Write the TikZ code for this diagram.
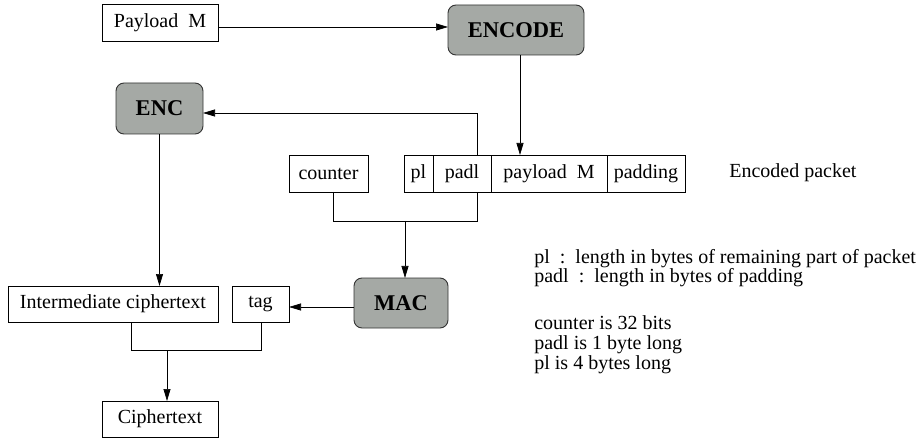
\documentclass[tikz,border=0pt]{standalone}
\usepackage{fontspec}
\setmainfont{Liberation Serif}
\usetikzlibrary{positioning,arrows.meta}

\definecolor{opgray}{RGB}{165,169,165}
\tikzset{
  field/.style={draw, inner sep=0pt, outer sep=0pt, minimum height=37},
  op/.style={draw=black!80, fill=opgray, rounded corners=8pt, line width=0.9pt,
    inner sep=0pt, outer sep=0pt, font=\fontsize{22.5}{22.5}\selectfont\bfseries},
  flow/.style={-{Triangle[length=12pt,width=7pt]}},
  note/.style={anchor=base west, inner sep=0pt},
}

\begin{document}
\begin{tikzpicture}[x=1pt, y=-1pt, line width=0.7pt, font=\fontsize{20}{20}\selectfont]
  \useasboundingbox (0,0) rectangle (923,438);

  \node[field, minimum width=116] (payin) at (160,22.5) {Payload\ \ M};
  \node[op, minimum width=136, minimum height=50] (encode) at (516,30) {ENCODE};
  \node[op, minimum width=87, minimum height=51] (enc) at (159.5,108.5) {ENC};

  % encoded packet
  \node[field, minimum width=79] (counter) at (328.5,173.5) {counter};
  \node[field, minimum width=29, anchor=north west] (pl) at (404,155) {pl};
  \node[field, minimum width=58, right=0pt of pl] (padl) {padl};
  \node[field, minimum width=116, right=0pt of padl] (paym) {payload\ \ M};
  \node[field, minimum width=78, right=0pt of paym] (padding) {padding};
  \node[anchor=west, inner sep=0pt] (pktlabel) at (729,173) {Encoded packet};

  \node[op, minimum width=94, minimum height=50] (mac) at (401,303) {MAC};
  \node[field, minimum width=210, minimum height=36] (inter) at (113,304) {Intermediate ciphertext};
  \node[field, minimum width=57, minimum height=36] (tag) at (260.5,304) {tag};
  \node[field, minimum width=116, minimum height=36] (cipher) at (160,419) {Ciphertext};

  % notes
  \node[note] (note1) at (534,263) {pl~~:~~length in bytes of remaining part of packet};
  \node[note] (note2) at (534,283) {padl~~:~~length in bytes of padding};
  \node[note] (note3) at (534,329) {counter is 32 bits};
  \node[note] (note4) at (534,349) {padl is 1 byte long};
  \node[note] (note5) at (534,369) {pl is 4 bytes long};

  \coordinate (macjoin) at (405,221);
  \coordinate (cipherjoin) at (167,350);

  \draw[flow] ([yshift=-4.5pt]payin.east) -- ([yshift=-4.5pt]payin.east -| encode.west);
  \draw[flow] ([xshift=4pt]encode.south) -- ([xshift=4pt]encode.south |- paym.north);
  \draw[flow] ([xshift=15pt]padl.north) |- ([yshift=-4.5pt]enc.east);
  \draw ([xshift=4.5pt]counter.south) -- ++(0,29) -| ([xshift=15pt]padl.south);
  \draw[flow] (macjoin) -- (macjoin |- mac.north);
  \draw[flow] (enc.south) -- (enc.south |- inter.north);
  \draw[flow] ([yshift=-4pt]mac.west) -- ([yshift=-4pt]mac.west -| tag.east);
  \draw ([xshift=18pt]inter.south) -- ++(0,28) -| ([xshift=0.5pt]tag.south);
  \draw[flow] (cipherjoin) -- (cipherjoin |- cipher.north);
\end{tikzpicture}
\end{document}
